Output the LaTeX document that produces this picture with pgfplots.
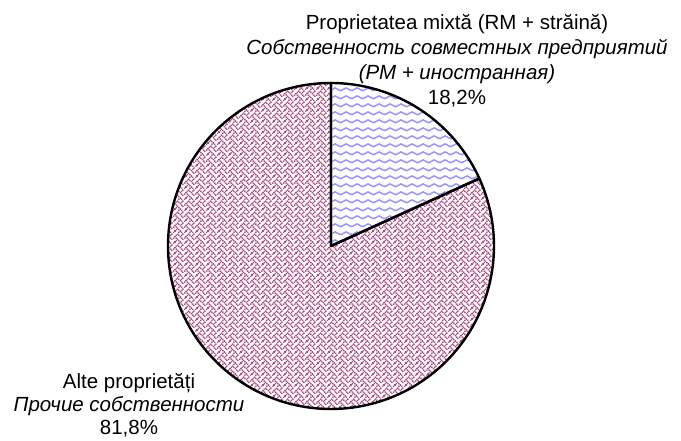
\documentclass[border=0pt]{standalone}
\usepackage{pgfplots}
\pgfplotsset{compat=1.18}
\usepackage{pgfplotstable}
\usepackage{fontspec}
\setmainfont{Liberation Sans}
\usetikzlibrary{patterns.meta}

\definecolor{wavecol}{RGB}{150,150,255}
\definecolor{weavecol}{RGB}{170,80,130}

\tikzdeclarepattern{
  name=wavy,
  type=uncolored,
  bounding box={(0,0) and (11pt,8.2pt)},
  tile size={(11pt,8.2pt)},
  code={
    \draw[line width=1.6pt, line cap=round] (-5.5pt,5.6pt) cos (-2.75pt,4.1pt) sin (0pt,2.6pt) cos (2.75pt,4.1pt) sin (5.5pt,5.6pt) cos (8.25pt,4.1pt) sin (11pt,2.6pt) cos (13.75pt,4.1pt) sin (16.5pt,5.6pt);
  }
}

% 8x8 weave bitmap, scaled
\tikzdeclarepattern{
  name=weave,
  type=uncolored,
  bounding box={(0,0) and (10.8pt,10.8pt)},
  tile size={(10.8pt,10.8pt)},
  code={
    \foreach \c/\r in {3/0,7/0,2/1,4/1,6/1,1/2,5/2,0/3,2/3,6/3,3/4,7/4,2/5,4/5,1/6,5/6,0/7,4/7,6/7}{
      \fill (1.35*\c pt-0.1pt,9.45pt-1.35*\r pt-0.1pt) rectangle ++(1.55pt,1.55pt);
    }
  }
}

\pgfplotstableread{
label value
mixta 18.2
alte 81.8
}\piedata

\pgfplotstablegetelem{0}{value}\of\piedata
\let\va\pgfplotsretval
\pgfmathsetmacro\angA{90-3.6*\va}

\begin{document}
\begin{tikzpicture}
\begin{axis}[
  x=1pt, y=1pt,
  xmin=0, xmax=681, ymin=0, ymax=441,
  hide axis, clip=false, scale only axis,
  axis line style={draw=none},
]
\path (axis cs:0,0) rectangle (axis cs:681,441);
% slice 2: other property (81.8%), counter-clockwise from the top
\addplot[mark=none, pattern={weave}, pattern color=weavecol, draw=black, line width=2.4pt, line join=round]
  coordinates {(331,195)} -- (axis cs:331,358) arc[start angle=90, end angle=\angA+360, radius=163pt] -- cycle;
% slice 1: mixed property (18.2%), clockwise from the top
\addplot[mark=none, pattern={wavy}, pattern color=wavecol, draw=black, line width=2.4pt, line join=round]
  coordinates {(331,195)} -- (axis cs:331,358) arc[start angle=90, end angle=\angA, radius=163pt] -- cycle;

\node[align=center, inner sep=0pt, font=\fontsize{20.5}{25}\selectfont] at (axis cs:457,380)
  {Proprietatea mixtă (RM + străină)\\ \textit{Собственность совместных предприятий}\\ \textit{(РМ + иностранная)}\\ 18,2\%};
\node[align=center, inner sep=0pt, font=\fontsize{20.5}{23}\selectfont] at (axis cs:129,35.5)
  {Alte proprietăți\\ \textit{Прочие собственности}\\ 81,8\%};
\end{axis}
\end{tikzpicture}
\end{document}
